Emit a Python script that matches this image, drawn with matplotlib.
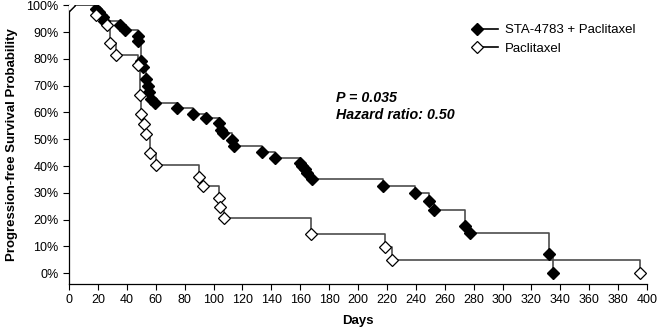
import matplotlib
matplotlib.use("Agg")
import matplotlib.pyplot as plt
from matplotlib.lines import Line2D
from matplotlib.legend_handler import HandlerLine2D

plt.rcParams['font.family'] = ['Liberation Sans', 'DejaVu Sans']

# Data (days, survival %)
sta_days = [0, 19, 20.5, 23.5, 24.5, 35, 38.5, 47.5, 48, 50, 51.5, 53, 54.5, 55.5, 56.5, 59.5,
            74.5, 86, 95, 103.5, 105.5, 106.5, 112.5, 114, 133.5, 142.5, 160, 161.5, 163, 164.5,
            168.5, 217.5, 239.5, 249, 252.5, 274, 277.5, 332.5, 335]
sta_surv = [100, 98.8, 97.4, 95.8, 94.2, 92.6, 90.7, 88.5, 86.6, 79.4, 76.9, 72.6, 69.8, 67.6,
            65.0, 63.6, 61.6, 59.5, 58.0, 56.0, 53.3, 52.3, 49.6, 47.4, 45.4, 43.2, 41.3, 40.0,
            38.8, 37.5, 35.2, 32.5, 29.8, 27.0, 23.6, 17.8, 15.0, 7.1, 0]

pac_days = [0, 19, 26, 28.5, 32.5, 47.5, 49, 49.5, 52, 53.5, 56, 60.5, 90, 92.5, 103.5,
            104.5, 107.5, 167.5, 218.5, 223.5, 395.5]
pac_surv = [100, 96.3, 92.8, 86.0, 81.5, 77.8, 66.4, 59.6, 55.6, 51.8, 44.8, 40.4, 36.0,
            32.4, 28.2, 24.6, 20.8, 14.8, 9.9, 5.0, 0]

x_ticks = list(range(0, 401, 20))
y_ticks = list(range(0, 101, 10))
y_labels = [f"{v}%" for v in y_ticks]

line_col = '#4d4d4d'
ms = 5.7

fig = plt.figure(figsize=(6.61, 3.29), dpi=100)
ax = fig.add_axes([69/661, 1-284/329, (647-69)/661, (284-5.3)/329])

ax.step(sta_days, sta_surv, where='post', color=line_col, lw=1.2, zorder=2)
ax.step(pac_days, pac_surv, where='post', color=line_col, lw=1.2, zorder=3)
ax.plot(sta_days, sta_surv, ls='none', marker='D', ms=ms, mfc='black', mec='black', zorder=4)
ax.plot(pac_days, pac_surv, ls='none', marker='D', ms=ms, mfc='white', mec='black', mew=0.9, zorder=5)

h1 = Line2D([], [], color='black', lw=1.2, marker='D', ms=ms, mfc='black', mec='black')
h2 = Line2D([], [], color='black', lw=1.2, marker='D', ms=ms, mfc='white', mec='black', mew=0.9)


class LeftMarker(HandlerLine2D):
    def create_artists(self, legend, orig_handle, xdescent, ydescent, width, height, fontsize, trans):
        arts = super().create_artists(legend, orig_handle, xdescent, ydescent, width, height, fontsize, trans)
        for a in arts:
            a.set_markevery([0])
        return arts


ax.legend([h1, h2], ['STA-4783 + Paclitaxel', 'Paclitaxel'], loc='upper right',
          bbox_to_anchor=(1.0, 0.975), frameon=False, fontsize=9.5, handlelength=1.6,
          handletextpad=0.5, labelspacing=0.45, numpoints=1,
          handler_map={Line2D: LeftMarker(numpoints=1)})

ax.text(184.5, 65.5, 'P = 0.035', fontsize=10.3, fontweight='bold', fontstyle='italic', va='center')
ax.text(184.5, 59.1, 'Hazard ratio: 0.50', fontsize=10.3, fontweight='bold', fontstyle='italic', va='center')

ax.set_xlim(0, 400)
ax.set_ylim(-4, 100)
ax.set_xticks(x_ticks)
ax.set_yticks(y_ticks)
ax.set_yticklabels(y_labels)
ax.tick_params(axis='both', direction='out', length=4, width=0.8, labelsize=9, colors='black')
for s in ['top', 'right']:
    ax.spines[s].set_visible(False)
for s in ['left', 'bottom']:
    ax.spines[s].set_linewidth(0.9)

ax.set_xlabel('Days', fontsize=9.5, fontweight='bold', labelpad=6)
ax.set_ylabel('Progression-free Survival Probability', fontsize=9.5, fontweight='bold', labelpad=6)

fig.savefig('out.png', dpi=100)
